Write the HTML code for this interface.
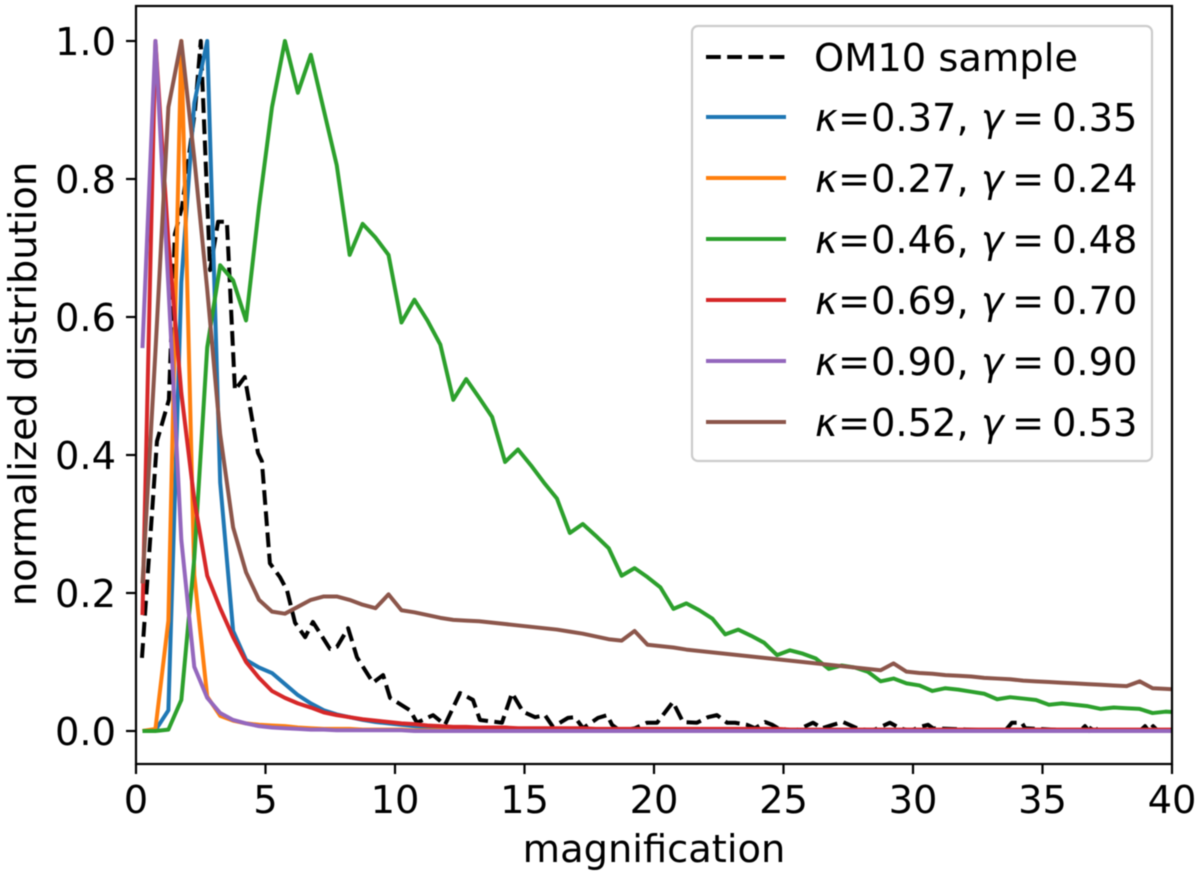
<!DOCTYPE html>
<html lang="en">
<head>
<meta charset="utf-8">
<title>Normalized magnification distribution</title>
<style>
html,body{margin:0;padding:0;background:#fff;width:1200px;height:876px;overflow:hidden}
svg{display:block;filter:blur(0.55px)}
text{font-family:"DejaVu Sans","Liberation Sans",sans-serif;fill:#000}
</style>
</head>
<body>
<svg id="chart" xmlns="http://www.w3.org/2000/svg" width="1200" height="876" viewBox="0 0 1200 876">
  <defs><clipPath id="plot-clip"><rect x="136" y="6" width="1036" height="758"/></clipPath></defs>
  <rect x="0" y="0" width="1200" height="876" fill="#fff"/>
  <g id="series" clip-path="url(#plot-clip)" fill="none" stroke-linejoin="round"></g>
  <g id="ticks"></g>
  <rect x="136" y="6" width="1036" height="758" fill="none" stroke="#000" stroke-width="2.2"/>
  <text x="654" y="862" font-size="38.4" text-anchor="middle">magnification</text>
  <text transform="translate(36,384) rotate(-90)" font-size="38.4" text-anchor="middle">normalized distribution</text>
  <g>
    <rect x="692" y="26" width="460" height="435" rx="6" ry="6" fill="#fff" fill-opacity="0.8" stroke="#ccc" stroke-width="2.2"/>
    <g id="legend-rows"></g>
  </g>
</svg>
<script>
// Shared magnification bins for the model curves
const magBins = [0.25,0.75,1.25,1.75,2.25,2.75,3.25,3.75,4.25,4.75,5.25,5.75,6.25,6.75,7.25,7.75,8.25,8.75,9.25,9.75,10.25,10.75,11.25,11.75,12.25,12.75,13.25,13.75,14.25,14.75,15.25,15.75,16.25,16.75,17.25,17.75,18.25,18.75,19.25,19.75,20.25,20.75,21.25,21.75,22.25,22.75,23.25,23.75,24.25,24.75,25.25,25.75,26.25,26.75,27.25,27.75,28.25,28.75,29.25,29.75,30.25,30.75,31.25,31.75,32.25,32.75,33.25,33.75,34.25,34.75,35.25,35.75,36.25,36.75,37.25,37.75,38.25,38.75,39.25,39.75,40.25];

// OM10 sample (own binning)
const om10Mag = [0.23,0.81,1.27,1.5,1.78,2.28,2.5,2.86,3.17,3.51,3.82,4.2,4.71,4.86,5.17,5.56,5.83,6.14,6.53,6.83,7.49,7.76,8.19,8.53,9.15,9.54,9.81,10.58,10.85,11.47,11.93,12.51,13.01,13.28,14.13,14.52,14.94,15.41,15.79,16.1,16.68,16.95,17.26,17.84,18.19,18.38,18.7,19.27,19.73,20.12,20.73,21.12,21.66,22.08,22.43,22.82,23.13,23.59,23.9,24.29,24.56,24.79,25.44,26.14,26.49,26.91,27.3,27.84,28.4,29.11,29.5,29.9,30.27,30.58,30.77,33.55,33.82,34.2,34.33,36.45,36.64,36.8,36.95,37.14,38.76,38.96,39.1,39.27,39.46,40.2];
const om10Values = [0.106,0.42,0.48,0.72,0.76,0.9,1.0,0.668,0.738,0.738,0.494,0.513,0.403,0.391,0.243,0.223,0.204,0.157,0.136,0.158,0.119,0.122,0.149,0.107,0.07,0.081,0.048,0.03,0.012,0.023,0.009,0.055,0.045,0.016,0.012,0.055,0.028,0.02,0.023,0.006,0.019,0.02,0.004,0.019,0.023,0.009,0,0.004,0.012,0.012,0.042,0.013,0.012,0.02,0.023,0.012,0.012,0.009,0.004,0.013,0.009,0.004,0,0.012,0.004,0.009,0.013,0.004,0,0.012,0.004,0,0.006,0.009,0.004,0,0.012,0.012,0.004,0,0.007,0,0.009,0,0,0.007,0,0.007,0,0];

const blueValues = [0,0.001,0.03,0.65,0.91,1.0,0.36,0.145,0.103,0.092,0.084,0.068,0.052,0.04,0.03,0.024,0.02,0.016,0.013,0.011,0.009,0.007,0.006,0.005,0.004,0.004,0.003,0.003,0.002,0.002,0.002,0.002,0.002,0.001,0.001,0.001,0.001,0.001,0.001,0.001,0.001,0.001,0.001,0.001,0.001,0.001,0,0,0,0,0,0,0,0,0,0,0,0,0,0,0,0,0,0,0,0,0,0,0,0,0,0,0,0,0,0,0,0,0,0,0];
const orangeValues = [0,0.003,0.16,1.0,0.226,0.05,0.022,0.015,0.011,0.009,0.008,0.007,0.005,0.004,0.003,0.003,0.003,0.002,0.002,0.002,0.002,0.001,0.001,0.001,0.001,0.001,0.001,0.001,0.001,0.001,0.001,0.001,0,0,0,0,0,0,0,0,0,0,0,0,0,0,0,0,0,0,0,0,0,0,0,0,0,0,0,0,0,0,0,0,0,0,0,0,0,0,0,0,0,0,0,0,0,0,0,0,0];
const greenValues = [0,0,0.002,0.045,0.25,0.556,0.675,0.653,0.595,0.76,0.904,1.0,0.925,0.98,0.9,0.82,0.69,0.735,0.715,0.69,0.592,0.625,0.595,0.56,0.48,0.51,0.483,0.455,0.39,0.408,0.385,0.36,0.337,0.287,0.3,0.283,0.265,0.225,0.236,0.223,0.208,0.177,0.185,0.175,0.163,0.14,0.147,0.138,0.128,0.11,0.117,0.112,0.105,0.09,0.095,0.092,0.086,0.072,0.076,0.069,0.066,0.058,0.062,0.06,0.057,0.054,0.046,0.049,0.047,0.045,0.038,0.04,0.038,0.036,0.032,0.034,0.033,0.032,0.026,0.028,0.027];
const redValues = [0.168,1.0,0.71,0.49,0.335,0.225,0.178,0.136,0.1,0.077,0.058,0.048,0.04,0.034,0.027,0.023,0.02,0.017,0.015,0.013,0.011,0.01,0.008,0.007,0.006,0.006,0.005,0.005,0.005,0.004,0.004,0.004,0.004,0.004,0.004,0.003,0.003,0.003,0.003,0.003,0.003,0.003,0.003,0.003,0.003,0.003,0.003,0.003,0.003,0.003,0.002,0.002,0.002,0.002,0.002,0.002,0.002,0.002,0.002,0.002,0.002,0.002,0.002,0.002,0.002,0.002,0.002,0.002,0.002,0.002,0.002,0.002,0.002,0.002,0.002,0.002,0.002,0.002,0.002,0.002,0.002];
const purpleValues = [0.555,1.0,0.645,0.277,0.093,0.048,0.026,0.016,0.011,0.007,0.005,0.004,0.003,0.002,0.002,0.001,0.001,0.001,0.001,0.001,0.001,0,0,0,0,0,0,0,0,0,0,0,0,0,0,0,0,0,0,0,0,0,0,0,0,0,0,0,0,0,0,0,0,0,0,0,0,0,0,0,0,0,0,0,0,0,0,0,0,0,0,0,0,0,0,0,0,0,0,0,0];
const brownValues = [0.214,0.55,0.904,1.0,0.83,0.64,0.43,0.295,0.23,0.19,0.173,0.17,0.18,0.19,0.195,0.195,0.19,0.183,0.178,0.198,0.175,0.172,0.168,0.164,0.161,0.16,0.159,0.157,0.155,0.153,0.151,0.149,0.147,0.144,0.141,0.137,0.133,0.131,0.145,0.125,0.123,0.121,0.118,0.116,0.114,0.112,0.11,0.108,0.106,0.104,0.102,0.1,0.098,0.096,0.094,0.092,0.09,0.088,0.098,0.086,0.084,0.083,0.081,0.08,0.079,0.077,0.076,0.075,0.073,0.072,0.071,0.07,0.069,0.068,0.067,0.066,0.065,0.072,0.062,0.061,0.06];

const xTicks = [0,5,10,15,20,25,30,35,40];
const yTicks = [0,0.2,0.4,0.6,0.8,1.0];
const legendKappa = ['0.37','0.27','0.46','0.69','0.90','0.52'];
const legendGamma = ['0.35','0.24','0.48','0.70','0.90','0.53'];
const lineColors = ['#1f77b4','#ff7f0e','#2ca02c','#d62728','#9467bd','#8c564b'];
const lineNames = ['blue','orange','green','red','purple','brown'];
const lineValues = [blueValues,orangeValues,greenValues,redValues,purpleValues,brownValues];

const NS = 'http://www.w3.org/2000/svg';
function xScale(v){ return 136 + v * 25.9; }
function yScale(v){ return 731 - v * 690; }
function make(tag, parent){ const el = document.createElementNS(NS, tag); parent.appendChild(el); return el; }
function pathFor(xs, ys){ return xs.map(function(x,i){ return (i ? 'L' : 'M') + xScale(x).toFixed(2) + ' ' + yScale(ys[i]).toFixed(2); }).join(''); }

const seriesGroup = document.getElementById('series');
const om10Line = make('path', seriesGroup);


om10Line.setAttribute('d', pathFor(om10Mag, om10Values));
om10Line.setAttribute('stroke', '#000');
om10Line.setAttribute('stroke-width', '4');
om10Line.setAttribute('stroke-dasharray', '14.8 6.4');

lineValues.forEach(function(vals, i){
  const line = make('path', seriesGroup);
  
  
  line.setAttribute('d', pathFor(magBins, vals));
  line.setAttribute('stroke', lineColors[i]);
  line.setAttribute('stroke-width', '4');
});

const tickGroup = document.getElementById('ticks');
xTicks.forEach(function(t){
  const mark = make('line', tickGroup);
  
  
  mark.setAttribute('x1', xScale(t));
  mark.setAttribute('x2', xScale(t));
  mark.setAttribute('y1', 764);
  mark.setAttribute('y2', 774);
  mark.setAttribute('stroke', '#000');
  mark.setAttribute('stroke-width', '2.2');
  const label = make('text', tickGroup);
  
  
  label.setAttribute('x', xScale(t));
  label.setAttribute('y', 813);
  label.setAttribute('font-size', '38.4');
  label.setAttribute('text-anchor', 'middle');
  label.textContent = String(t);
});
yTicks.forEach(function(t){
  const mark = make('line', tickGroup);
  
  
  mark.setAttribute('x1', 126);
  mark.setAttribute('x2', 136);
  mark.setAttribute('y1', yScale(t));
  mark.setAttribute('y2', yScale(t));
  mark.setAttribute('stroke', '#000');
  mark.setAttribute('stroke-width', '2.2');
  const label = make('text', tickGroup);
  
  
  label.setAttribute('x', 116);
  label.setAttribute('y', yScale(t) + 14);
  label.setAttribute('font-size', '38.4');
  label.setAttribute('text-anchor', 'end');
  label.textContent = t.toFixed(1);
});

const legendGroup = document.getElementById('legend-rows');
const om10Swatch = make('line', legendGroup);


om10Swatch.setAttribute('x1', 706);
om10Swatch.setAttribute('x2', 786);
om10Swatch.setAttribute('y1', 57);
om10Swatch.setAttribute('y2', 57);
om10Swatch.setAttribute('stroke', '#000');
om10Swatch.setAttribute('stroke-width', '4');
om10Swatch.setAttribute('stroke-dasharray', '14.8 6.4');
const om10Label = make('text', legendGroup);


om10Label.setAttribute('x', 814);
om10Label.setAttribute('y', 71);
om10Label.setAttribute('font-size', '38.4');
om10Label.textContent = 'OM10 sample';

legendKappa.forEach(function(k, i){
  const rowY = 117 + i * 61;
  const swatch = make('line', legendGroup);
  
  
  swatch.setAttribute('x1', 706);
  swatch.setAttribute('x2', 786);
  swatch.setAttribute('y1', rowY);
  swatch.setAttribute('y2', rowY);
  swatch.setAttribute('stroke', lineColors[i]);
  swatch.setAttribute('stroke-width', '4');
  const label = make('text', legendGroup);
  
  
  label.setAttribute('y', rowY + 14);
  label.setAttribute('font-size', '38.4');
  const parts = [[815,'\u03BA',true],[838,'=',false],[871,k + ',',false],[981,'\u03B3',true],[1012,'=',false],[1052,legendGamma[i],false]];
  parts.forEach(function(p){
    const span = make('tspan', label);
    span.setAttribute('x', p[0]);
    if (p[2]) span.setAttribute('font-style', 'italic');
    span.textContent = p[1];
  });
});
</script>
</body>
</html>
